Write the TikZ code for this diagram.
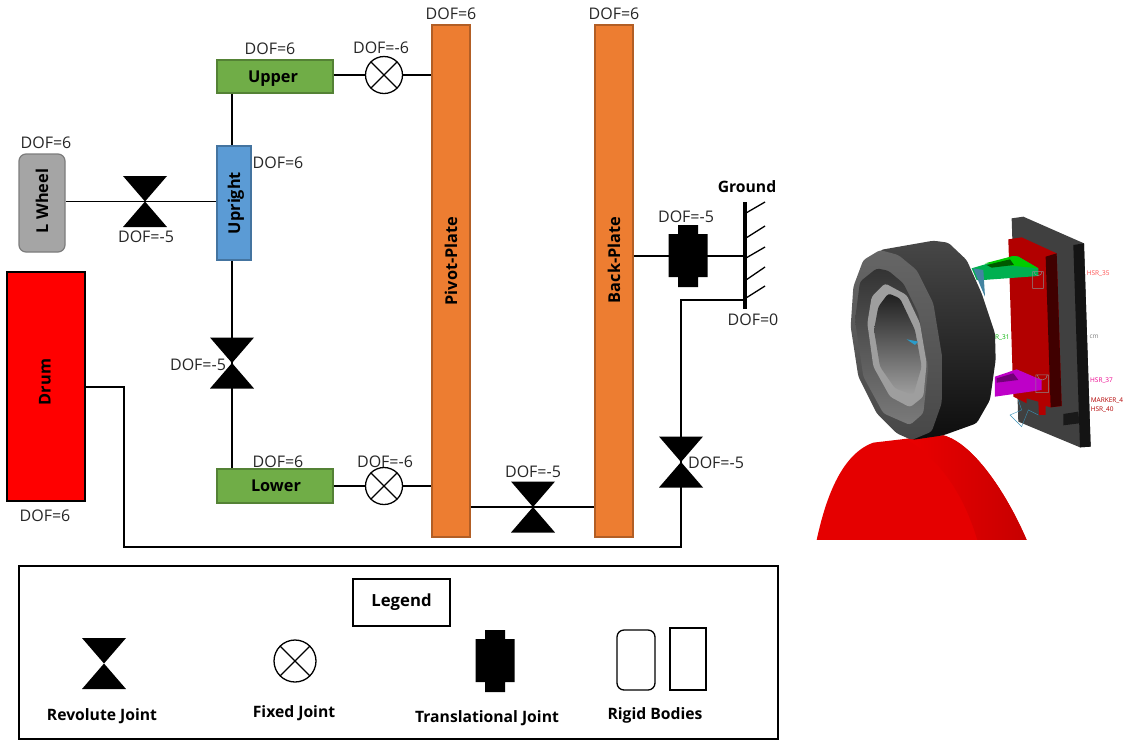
\documentclass[tikz,border=0pt]{standalone}
\usepackage{graphicx}
\usepackage{fontspec}
\setmainfont{Open Sans}
\usepackage{xcolor}
\usetikzlibrary{positioning,shapes,calc}
\definecolor{wheelgray}{HTML}{A5A5A5}
\definecolor{uppergreen}{HTML}{70AD47}
\definecolor{uprightblue}{HTML}{5B9BD5}
\definecolor{plateorange}{HTML}{ED7D31}
\definecolor{armgreen}{HTML}{00B050}
\definecolor{armmagenta}{HTML}{BE00C8}
\tikzset{
    body/.style={draw=#1!75!black, fill=#1, line width=1.2pt, inner sep=0pt},
    bodytext/.style={inner sep=0pt, font=\bfseries\fontsize{16.3}{18}\selectfont},
    dof/.style={inner sep=0pt, font=\fontsize{16}{18}\selectfont, text=black!85},
    legendtext/.style={inner sep=0pt, font=\bfseries\fontsize{15.7}{18}\selectfont},
    revolute/.style={minimum width=44pt, minimum height=51pt, inner sep=0pt, path picture={
        \fill (path picture bounding box.north west) -- (path picture bounding box.north east)
            -- (path picture bounding box.south west) -- (path picture bounding box.south east) -- cycle;}},
    fixedjoint/.style={circle, draw, fill=white, line width=1.3pt, minimum size=#1, inner sep=0pt, path picture={
        \draw[line width=1.3pt] (path picture bounding box.north west) -- (path picture bounding box.south east)
            (path picture bounding box.north east) -- (path picture bounding box.south west);}},
    translational/.style={minimum width=39pt, minimum height=62pt, inner sep=0pt, path picture={
        \fill[shift={(path picture bounding box.center)}] (-10,-31) -- (10,-31) -- (10,-22) -- (19.5,-22) -- (19.5,21)
            -- (10,21) -- (10,31) -- (-10,31) -- (-10,21) -- (-19.5,21) -- (-19.5,-22) -- (-10,-22) -- cycle;}},
    link/.style={line width=1.3pt},
    marker/.style={inner sep=0pt, anchor=west, font=\fontsize{6.5}{7}\selectfont}
}
\begin{document}
\begin{tikzpicture}[x=1pt, y=-1pt]
    \useasboundingbox (0,0) rectangle (1126,740);

    \node[body=wheelgray, rounded corners=7pt, minimum width=46pt, minimum height=98pt] (lwheel) at (42,203) {};
    \node[body=uppergreen, minimum width=116pt, minimum height=33pt] (upper) at (275,76.5) {};
    \node[body=uppergreen, minimum width=116pt, minimum height=34pt] (lower) at (275,486) {};
    \node[body=uprightblue, minimum width=34pt, minimum height=114pt] (upright) at (234,203) {};
    \node[draw, fill=red, line width=1.5pt, inner sep=0pt, minimum width=78pt, minimum height=229pt] (drum) at (46,386.5) {};
    \node[body=plateorange, minimum width=38pt, minimum height=512pt] (pivot) at (451,281) {};
    \node[body=plateorange, minimum width=38pt, minimum height=512pt] (back) at (614,281) {};

    \node[bodytext] (lwheeltext) at (42,201) {\rotatebox{90}{L Wheel}};
    \node[bodytext] (uppertext) at (273,79) {Upper};
    \node[bodytext] (lowertext) at (276,486) {Lower};
    \node[bodytext] (uprighttext) at (236,203) {\rotatebox{90}{Upright}};
    \node[bodytext] (drumtext) at (45,382) {\rotatebox{90}{Drum}};
    \node[bodytext] (pivottext) at (451,261) {\rotatebox{90}{Pivot-Plate}};
    \node[bodytext] (backtext) at (614,260) {\rotatebox{90}{Back-Plate}};

    \node[revolute] (revwheel) at (145,201.5) {};
    \node[revolute] (revupright) at (232,363) {};
    \node[revolute] (revplate) at (533,507) {};
    \node[revolute] (revdrum) at (681,462) {};
    \node[fixedjoint=37pt] (fixupper) at (384,75) {};
    \node[fixedjoint=37pt] (fixlower) at (384,486) {};
    \node[translational] (transback) at (688,256) {};

    \coordinate (groundtop) at (745,202);
    \coordinate (groundbot) at (745,309);
    \coordinate (groundin) at (745,256);
    \coordinate (groundout) at (745,300);

    \draw[link] (lwheel.east |- revwheel) -- (revwheel.center) -- (upright.west |- revwheel);
    \draw[link] (revupright |- upper.south) -- (revupright |- upright.north);
    \draw[link] (revupright |- upright.south) -- (revupright.center) -- (revupright |- lower.north);
    \draw[link] (upper.east |- fixupper) -- (fixupper);
    \draw[link] (fixupper) -- (pivot.west |- fixupper);
    \draw[link] (lower.east |- fixlower) -- (fixlower);
    \draw[link] (fixlower) -- (pivot.west |- fixlower);
    \draw[link] (pivot.east |- revplate) -- (revplate.center) -- (back.west |- revplate);
    \draw[link] (back.east |- transback) -- (transback.center) -- (groundin);
    \draw[link] (groundout) -| (revdrum.center) -- ++(0,85) -| (124,387) -- (drum.east |- 0,387);
    \draw[line width=3.5pt] (groundtop) -- (groundbot);
    \foreach \ya/\yb in {213/202,238/226,258/247,280/267,298/286}
        \draw[line width=1.3pt] (746,\ya) -- (765,\yb);

    \node[dof] (dofpivot) at (451,14) {DOF=6};
    \node[dof] (dofback) at (614,14) {DOF=6};
    \node[dof] (dofupper) at (270,49) {DOF=6};
    \node[dof] (doffixupper) at (381,48) {DOF=-6};
    \node[dof] (dofwheel) at (46,143) {DOF=6};
    \node[dof] (dofupright) at (278,163) {DOF=6};
    \node[dof] (dofrevwheel) at (146,237) {DOF=-5};
    \node[dof] (dofrevupright) at (198,365) {DOF=-5};
    \node[dof] (doflower) at (278,462) {DOF=6};
    \node[dof] (doffixlower) at (385,462) {DOF=-6};
    \node[dof] (dofrevplate) at (533,472) {DOF=-5};
    \node[dof] (dofrevdrum) at (716,463) {DOF=-5};
    \node[dof] (doftrans) at (686,217) {DOF=-5};
    \node[dof] (dofground) at (753,320) {DOF=0};
    \node[dof] (dofdrum) at (45,516) {DOF=6};
    \node[legendtext] (ground) at (747,187) {Ground};

    % legend
    \node[draw, line width=1.5pt, minimum width=759pt, minimum height=173pt, inner sep=0pt] (legendframe) at (398.5,652.5) {};
    \node[draw, line width=1.5pt, minimum width=97pt, minimum height=47pt, inner sep=0pt, font=\bfseries\fontsize{16.7}{18}\selectfont] (legend) at (401.5,602.5) {Legend};
    \node[revolute] (keyrev) at (104,663.5) {};
    \node[fixedjoint=42pt] (keyfix) at (295,661) {};
    \node[translational] (keytrans) at (495,661) {};
    \node[draw, line width=1.3pt, rounded corners=7pt, minimum width=38pt, minimum height=60pt, inner sep=0pt] (keyround) at (636,660) {};
    \node[draw, line width=1.3pt, minimum width=36pt, minimum height=62pt, inner sep=0pt] (keyrect) at (688,659) {};
    \node[legendtext] (keyrevtext) at (102,716) {Revolute Joint};
    \node[legendtext] (keyfixtext) at (294,713) {Fixed Joint};
    \node[legendtext] (keytranstext) at (487,718) {Translational Joint};
    \node[legendtext] (keybodytext) at (655,715) {Rigid Bodies};

    % model view
    \begin{scope}[shift={(800,200)}, x=0.3333pt, y=-0.3333pt]
        \fill[black!75] (635,55) -- (670,50) -- (852,130) -- (872,740) -- (840,742) -- (655,665) -- cycle;
        \fill[black!92] (820,135) -- (852,130) -- (872,740) -- (840,742) -- cycle;
        \fill[black!90] (790,642) -- (835,635) -- (838,670) -- (790,676) -- cycle;
        \fill[red!70!black] (625,118) -- (665,112) -- (770,160) -- (785,618) -- (752,622) -- (737,618) -- (737,645) -- (717,645) -- (715,605) -- (680,595) -- (680,610) -- (640,590) -- cycle;
        \fill[red!25!black] (737,170) -- (770,160) -- (785,618) -- (752,622) -- cycle;
        \fill[armgreen] (515,205) -- (640,168) -- (655,170) -- (715,205) -- (715,228) -- (550,240) -- (530,240) -- cycle;
        \fill[green!80!black] (555,190) -- (640,168) -- (655,170) -- (715,205) -- (645,198) -- cycle;
        \fill[green!35!black] (560,195) -- (630,178) -- (642,195) -- (575,203) -- cycle;
        \fill[armmagenta] (585,530) -- (650,508) -- (725,540) -- (725,570) -- (585,590) -- cycle;
        \fill[armmagenta!60!black] (590,535) -- (640,520) -- (655,540) -- (590,548) -- cycle;
        \draw[black!45, line width=0.5pt] (698,215) rectangle (730,265) (702,215) arc[start angle=180, end angle=0, radius=12];
        \draw[black!45, line width=0.5pt] (708,525) rectangle (745,578) (712,525) arc[start angle=180, end angle=0, radius=15];
        \draw[cyan!70!black, line width=0.4pt] (655,600) -- (665,630) -- (630,645) -- (665,680) -- (685,630) -- (715,645);
        \fill[cyan!60!black] (520,205) -- (550,210) -- (555,290) -- (540,255) -- cycle;
        \node[marker, text=red!70] (markerA) at (860,222) {HSR\_35};
        \node[marker, text=magenta] (markerB) at (870,541) {HSR\_37};
        \node[marker, text=red!70!black] (markerC) at (872,603) {MARKER\_4};
        \node[marker, text=red!70!black] (markerD) at (872,630) {HSR\_40};
        \node[marker, text=green!70!black] (markerE) at (585,412) {R\_31};
        \node[marker, text=black!50] (markerF) at (868,411) {cm};

        \fill[red!90!black] (50,1020) .. controls (80,880) and (130,760) .. (220,728) -- (330,715) -- (430,706) .. controls (520,730) and (620,880) .. (680,1020) -- cycle;
        \shade[left color=red!92!black, right color=red!78!black] (320,717) -- (430,706) .. controls (520,730) and (620,880) .. (680,1020) -- (532,1020) .. controls (490,880) and (420,780) .. (320,717) -- cycle;

        \begin{scope}[rounded corners=3pt]
        \shade[top color=black!72, bottom color=black!95] (240,150) -- (400,122) -- (445,128) -- (500,180) -- (545,280) -- (585,400) -- (587,480) -- (570,600) -- (530,670) -- (430,706) -- (335,720) -- cycle;
        \shade[top color=black!60, bottom color=black!72] (240,150) -- (190,180) -- (160,260) -- (152,380) -- (175,530) -- (230,640) -- (290,700) -- (335,720) -- (395,695) -- (425,610) -- (428,480) -- (400,310) -- (350,210) -- (295,165) -- cycle;
        \shade[top color=black!80, bottom color=black!52] (230,205) -- (180,245) -- (165,360) -- (190,530) -- (250,640) -- (330,675) -- (370,640) -- (385,500) -- (355,340) -- (310,250) -- (265,212) -- cycle;
        \fill[black!38] (255,250) -- (215,290) -- (202,370) -- (220,500) -- (270,590) -- (330,622) -- (370,590) -- (380,490) -- (360,370) -- (320,285) -- cycle;
        \shade[top color=black!88, bottom color=black!38] (265,280) -- (235,320) -- (222,390) -- (240,500) -- (285,565) -- (340,585) -- (365,500) -- (345,390) -- (300,295) -- cycle;
        \end{scope}
        \fill[cyan!80!black] (320,418) -- (355,425) -- (345,435) -- cycle;
    \end{scope}
\end{tikzpicture}
\end{document}
